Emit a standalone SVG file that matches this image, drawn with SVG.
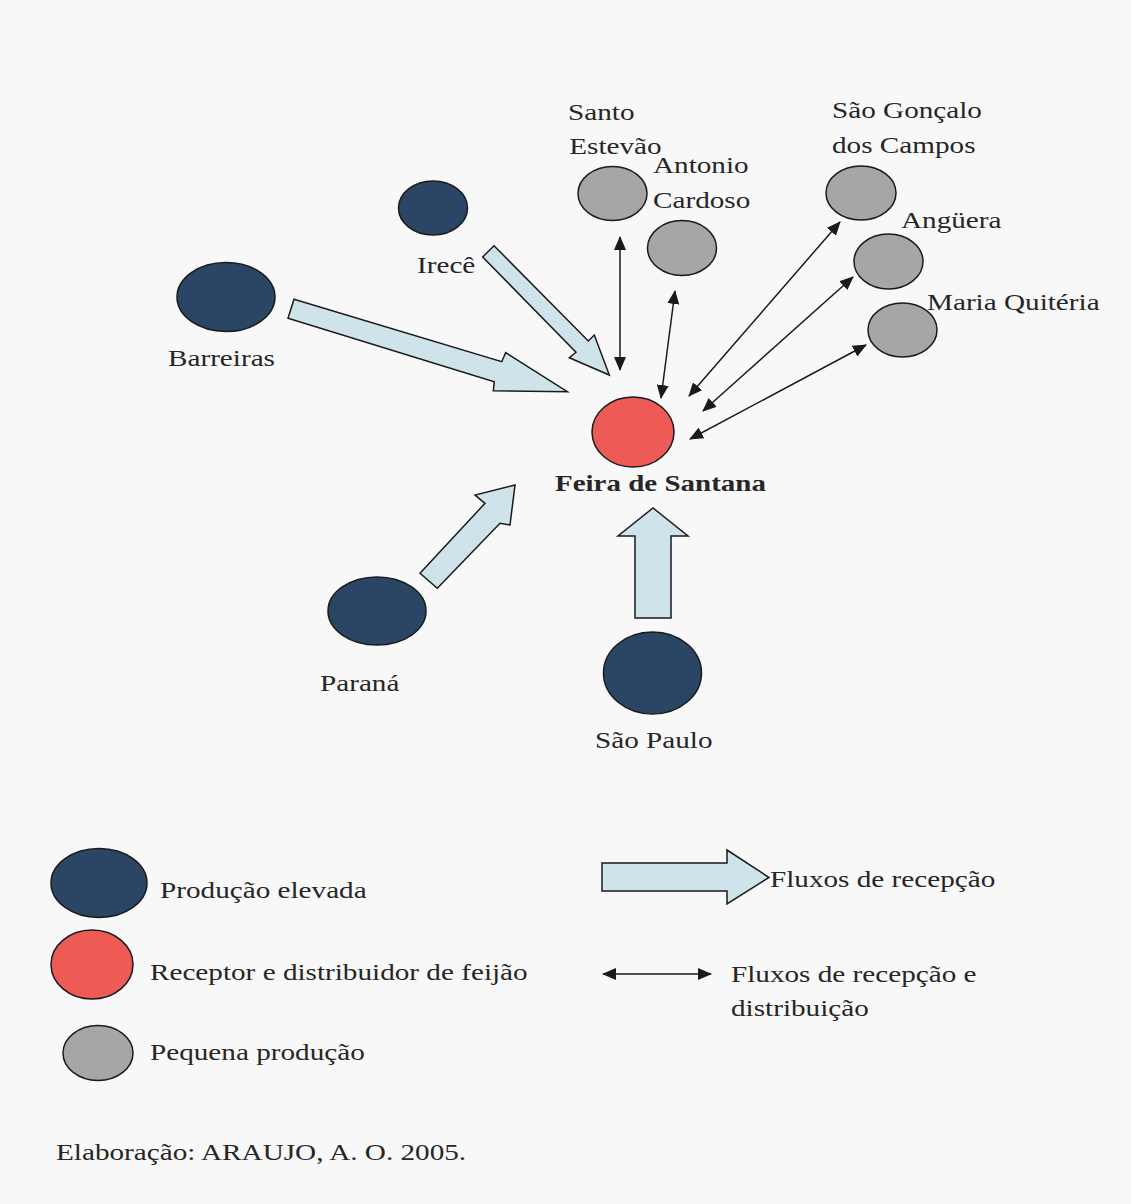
<svg xmlns="http://www.w3.org/2000/svg" width="1131" height="1204" viewBox="0 0 1131 1204">
<style>
.t{font-family:"Liberation Serif","Times New Roman",serif;font-size:23px;fill:#262626}
.b{font-weight:bold}
.high{fill:#2b4665;stroke:#1a1a1a;stroke-width:1.5}
.recv{fill:#ee5b57;stroke:#1a1a1a;stroke-width:1.5}
.small{fill:#a4a6a8;stroke:#1a1a1a;stroke-width:1.5}
.flow{fill:#cfe3ea;stroke:#1a1a1a;stroke-width:1.5;stroke-linejoin:miter}
.dbl{stroke:#1a1a1a;stroke-width:1.5;fill:none;marker-start:url(#ah);marker-end:url(#ah)}
</style>
<defs>
<marker id="ah" viewBox="0 0 14 12" refX="13" refY="6" markerWidth="14" markerHeight="12" markerUnits="userSpaceOnUse" orient="auto-start-reverse">
<path d="M0,0 L14,6 L0,12 Z" fill="#1a1a1a"/>
</marker>
</defs>
<rect width="1131" height="1204" fill="#f8f8f8"/>

<g id="connectors">
<polygon class="flow" points="294,299.3 501.7,361.7 505.7,352.7 567.3,391.7 493.3,390.7 494.3,381.7 288,318.3"/>
<polygon class="flow" points="494,245.7 588.3,341 594.3,335 609.3,375 569.3,357.7 576,352.3 482.7,257"/>
<polygon class="flow" points="420,573.3 485,503.3 475,495 515,485 510,525 500,523.3 437.3,588.3"/>
<polygon class="flow" points="635,618 635,536 618,536 653,508 688,536 671,536 671,618"/>
<line class="dbl" x1="620" y1="237" x2="620" y2="370"/>
<line class="dbl" x1="675" y1="291" x2="661" y2="398"/>
<line class="dbl" x1="840" y1="222" x2="689" y2="396"/>
<line class="dbl" x1="853" y1="277" x2="703" y2="411"/>
<line class="dbl" x1="866" y1="345" x2="690" y2="439"/>
</g>

<g id="node-feira">
<ellipse class="recv" cx="633" cy="432" rx="41" ry="35"/>
<text class="t b" transform="translate(555 491) scale(1.26 1)">Feira de Santana</text>
</g>
<g id="node-irece">
<ellipse class="high" cx="433" cy="208" rx="34.5" ry="27"/>
<text class="t" transform="translate(417 273) scale(1.27 1)">Irecê</text>
</g>
<g id="node-barreiras">
<ellipse class="high" cx="226" cy="297" rx="49" ry="34.5"/>
<text class="t" transform="translate(168 366) scale(1.27 1)">Barreiras</text>
</g>
<g id="node-parana">
<ellipse class="high" cx="377" cy="611" rx="49" ry="34"/>
<text class="t" transform="translate(320 691) scale(1.27 1)">Paraná</text>
</g>
<g id="node-saopaulo">
<ellipse class="high" cx="652.5" cy="673" rx="49" ry="41"/>
<text class="t" transform="translate(595 748) scale(1.27 1)">São Paulo</text>
</g>
<g id="node-santoestevao">
<ellipse class="small" cx="612.5" cy="193.5" rx="34.5" ry="27"/>
<text class="t" transform="translate(568 120) scale(1.27 1)"><tspan x="0" y="0">Santo</tspan><tspan x="1" y="34">Estevão</tspan></text>
</g>
<g id="node-antoniocardoso">
<ellipse class="small" cx="682" cy="248" rx="34.5" ry="27.5"/>
<text class="t" transform="translate(653 173) scale(1.27 1)"><tspan x="0" y="0">Antonio</tspan><tspan x="0" y="35">Cardoso</tspan></text>
</g>
<g id="node-saogoncalo">
<ellipse class="small" cx="861" cy="193" rx="35" ry="27"/>
<text class="t" transform="translate(832 118) scale(1.27 1)"><tspan x="0" y="0">São Gonçalo</tspan><tspan x="0" y="35">dos Campos</tspan></text>
</g>
<g id="node-anguera">
<ellipse class="small" cx="888.5" cy="261.5" rx="34.5" ry="27.5"/>
<text class="t" transform="translate(901 228) scale(1.27 1)">Angüera</text>
</g>
<g id="node-mariaquiteria">
<ellipse class="small" cx="902.5" cy="330" rx="34.5" ry="27"/>
<text class="t" transform="translate(927 310) scale(1.27 1)">Maria Quitéria</text>
</g>

<g id="legend">
<ellipse class="high" cx="99" cy="883" rx="48" ry="34.5"/>
<text class="t" transform="translate(160 898) scale(1.27 1)">Produção elevada</text>
<ellipse class="recv" cx="92" cy="964.5" rx="41" ry="34.5"/>
<text class="t" transform="translate(150 980) scale(1.27 1)">Receptor e distribuidor de feijão</text>
<ellipse class="small" cx="98" cy="1053" rx="35" ry="27.5"/>
<text class="t" transform="translate(150 1060) scale(1.27 1)">Pequena produção</text>
<polygon class="flow" points="602,863 727,863 727,850 769,877.5 727,904 727,891 602,891"/>
<text class="t" transform="translate(770 887) scale(1.27 1)">Fluxos de recepção</text>
<line class="dbl" x1="603" y1="974" x2="711" y2="974"/>
<text class="t" transform="translate(731 982) scale(1.27 1)"><tspan x="0" y="0">Fluxos de recepção e</tspan><tspan x="0" y="34">distribuição</tspan></text>
</g>

<text class="t" transform="translate(56 1160) scale(1.27 1)">Elaboração: ARAUJO, A. O. 2005.</text>
</svg>
